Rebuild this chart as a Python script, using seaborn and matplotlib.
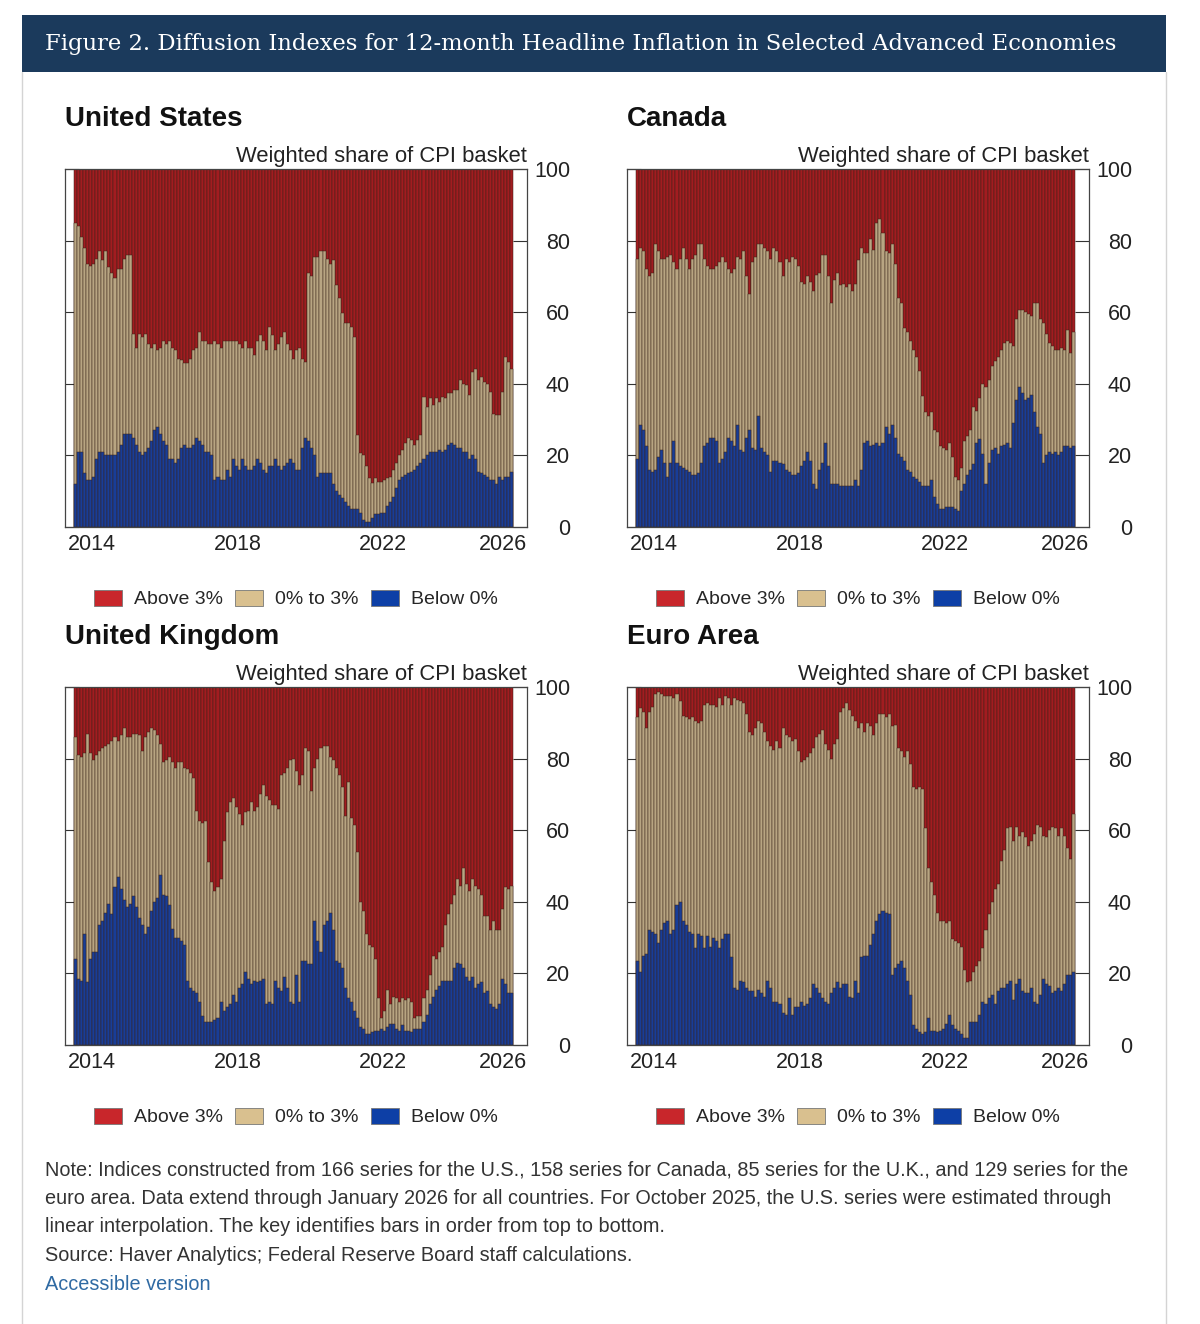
import matplotlib
matplotlib.use('Agg')
import matplotlib.pyplot as plt
from matplotlib.patches import Rectangle, Patch
from matplotlib.lines import Line2D
import seaborn as sns
import pandas as pd

# monthly, Jan 2014 - Jan 2026
months = pd.date_range('2014-01-01', '2026-01-01', freq='MS')
year_labels = ['2014', '2018', '2022', '2026']

# share of CPI basket with 12-month inflation below 0% and below 3% (cumulative)
us_below0 = [12, 21, 21, 15, 13, 13, 14, 19, 21, 21,
             20, 20, 20, 20, 21, 23, 26, 26, 26, 25,
             23, 21, 20, 21, 22, 24, 27, 28, 26, 24,
             23, 19, 19, 18, 19, 22, 23, 22, 22, 23,
             25, 24, 23, 21, 21, 20, 13, 14, 13, 13,
             16, 14, 19, 17, 16, 19, 17, 16, 16, 17,
             19, 18, 16, 15, 17, 17, 19, 17, 16, 17,
             18, 19, 18, 16, 16, 22, 25, 24, 22, 20,
             14, 15, 15, 15, 15, 12, 10, 9, 8, 7,
             6, 5, 5, 5, 4, 2, 1.5, 1.5, 2.5, 3.5,
             3.5, 4, 4, 6, 7, 8.5, 11, 13, 14, 14.5,
             15, 15.5, 16, 17, 18, 19, 20, 21, 21, 21,
             21.5, 21, 21.5, 23, 23.5, 23, 22, 22, 21, 21,
             19, 20, 19, 15.5, 15, 14.5, 14, 13, 13, 12,
             14, 13, 14, 14, 15.5]
us_below3 = [85, 84, 81, 78, 73.6, 73, 73.6, 75, 77, 74.6,
             77, 72.7, 71, 69.5, 72, 72, 75, 76, 76, 54,
             50, 54, 53, 54, 51, 50, 51, 49.5, 50, 52,
             51, 52, 50, 49.5, 47, 46.6, 45.7, 45.7, 47, 49.5,
             50, 54.5, 52, 52, 51, 51, 52, 51, 50, 52,
             52, 52, 52, 52, 51, 50, 52, 50, 50, 48,
             52, 53.6, 52, 49.5, 56, 53.6, 49.5, 51, 53, 54.5,
             51, 49.5, 47, 49.5, 50, 47, 46, 71, 70, 75.5,
             75.5, 77, 77, 75, 73.6, 74.6, 67.6, 64, 59.7, 57,
             57, 56, 53, 25.7, 20.6, 20, 17, 13.6, 12.2, 13.6,
             12.7, 12.7, 13, 13.6, 14, 16, 18, 20, 21.5, 23.4,
             24.8, 24.3, 23, 24.3, 25.7, 36.4, 33.6, 36, 34, 36,
             35, 36.4, 36, 37.3, 37.3, 38.3, 38.3, 41, 40, 39.7,
             37, 43.4, 44, 41, 42, 40.6, 40, 37.8, 31.7, 31.3,
             31.3, 37.8, 47.6, 46, 44]

ca_below0 = [19, 28.5, 27, 22.5, 16, 15.5, 16, 19.5, 21.5, 18,
             14, 18, 24, 18, 17, 16.5, 16, 15.5, 14.5, 14.5,
             15, 18, 22.5, 23.5, 25, 25, 24, 18, 19, 21,
             25, 24, 22.5, 28.5, 21.5, 21, 25, 27, 22, 21.5,
             31, 22, 21, 20, 15.5, 18.5, 18.5, 18, 17.5, 16,
             15.5, 14.5, 14.5, 15, 17, 18.5, 21, 18.5, 12, 10.5,
             16, 18, 23.5, 17, 12, 12, 12, 11.5, 11.5, 11.5,
             11.5, 11.5, 13, 11.5, 16, 23.5, 24, 22.5, 23, 23.5,
             22.5, 23.5, 28, 26, 28.5, 25, 20.5, 19.5, 18.5, 16,
             15.5, 14, 13.5, 12.5, 11.5, 11.5, 11.5, 13, 8.5, 6.5,
             5, 5, 5.5, 5.5, 5.5, 5, 4.5, 10, 12, 14.5,
             16, 17.5, 23.5, 24.5, 20.5, 12, 18, 21.5, 22, 20.5,
             22.5, 23, 23.5, 22, 29, 35.5, 39, 37.5, 35.5, 36,
             37, 32, 28, 26, 18, 20, 21, 20.5, 21, 20,
             21, 22.5, 22.5, 22, 22.5]
ca_below3 = [75, 78, 77, 72, 70, 71, 79, 77, 75, 75,
             75.5, 76, 74, 72, 75, 78, 75, 72, 75, 76,
             79, 79, 75, 73, 72, 72, 73, 74, 75.5, 74,
             72, 71, 72, 75.5, 75, 77, 70, 65, 74, 75.5,
             79, 79, 78, 77, 75, 78, 77, 74, 70, 75,
             74, 75.5, 75, 73, 68.5, 68, 70, 68.5, 66, 70.5,
             71, 76, 76, 70, 62.5, 69, 71, 67.5, 68, 67,
             68, 66, 68, 74.5, 78, 76.5, 76.5, 80.5, 77.5, 85,
             86, 82, 77, 76.5, 79, 73.5, 64, 62.5, 55.5, 54.5,
             52, 49.5, 47.5, 43.5, 36.5, 32, 31, 32, 27, 26.5,
             22.5, 22, 21.5, 23.5, 19.5, 14, 13, 16.5, 24, 25.5,
             27, 33.5, 32.5, 36, 40, 39, 41, 45, 46.5, 47.5,
             49.5, 51.5, 52, 51.5, 50.5, 58, 60.5, 60.5, 60, 59.5,
             59, 62.5, 62.5, 58, 57, 54, 51.5, 50.5, 49.5, 49.5,
             50, 49.5, 55, 48.5, 54.5]

uk_below0 = [24, 18.5, 18, 31, 17.5, 24, 26, 26, 33.5, 34.5,
             37, 39.5, 36.5, 44, 47, 43.5, 40.5, 38.5, 39.5, 41.5,
             38.5, 35.5, 33.5, 31, 33, 37.5, 40, 41, 47.5, 42,
             41.5, 39, 32.5, 30, 30, 29, 28, 18, 16, 15,
             14.5, 12, 8, 6.5, 6.5, 6.5, 7, 7.5, 12, 9.5,
             10.5, 11.5, 14, 12, 16, 17, 20.5, 18.5, 17, 18,
             17.5, 18, 18.5, 11.5, 12, 11.5, 18, 16, 15, 19,
             16, 12, 11.5, 19.5, 12, 23.5, 23.5, 22.5, 22.5, 34.5,
             29, 26, 33.5, 34.5, 37, 32, 23.5, 23, 21.5, 16,
             13, 12, 9.5, 7.5, 5, 4.5, 3, 3, 3.5, 4,
             4, 4.5, 4, 5, 6, 6, 4.5, 4, 5.5, 4,
             4, 3.5, 4.5, 4.5, 4.5, 6.5, 8.5, 11.5, 13.5, 15.5,
             16.5, 18, 18, 18, 18, 21.5, 23, 22.5, 21.5, 19,
             18, 19, 16, 17, 17.5, 14.5, 15, 11.5, 10.5, 10,
             11.5, 18.5, 17, 14.5, 14.5]
uk_below3 = [86, 81, 80.5, 81.5, 87, 81.5, 79.5, 81, 82, 83,
             83.5, 84, 85, 86, 85, 86.5, 88.5, 86, 86, 87,
             87, 86.5, 82, 86, 87.5, 88.5, 88, 86.5, 84, 79,
             79.5, 80.5, 79, 77.5, 79, 79, 77.5, 77, 76, 74.5,
             65.5, 62.5, 62, 62.5, 51, 45.5, 43, 44, 46.5, 57,
             65, 68, 69, 66.5, 64.5, 61.5, 65, 65.5, 68, 65.5,
             66.5, 70, 72.5, 69.5, 68.5, 67, 67, 66, 75.5, 76,
             77.5, 79.5, 80, 76.5, 72.5, 75.5, 83, 82, 71, 77.5,
             80, 83, 83.5, 83.5, 80.5, 79.5, 77.5, 75.5, 72, 64,
             73.5, 63.5, 61.5, 54, 40, 37.5, 31, 28, 27.5, 24,
             13, 7.5, 9.5, 15.5, 11.5, 13.5, 13, 12, 13, 12.5,
             13, 12, 7.5, 8, 8, 13, 15.5, 19.5, 25, 24,
             26, 27.5, 33.5, 36.5, 39.5, 42, 46.5, 44.5, 49.5, 45,
             43, 46.5, 44.5, 43.5, 42, 36, 36, 32, 34.5, 32,
             32, 38, 44, 43.5, 44.5]

ea_below0 = [23.5, 20.5, 25, 25.5, 32, 31.5, 31, 28.5, 32, 34,
             34.5, 31, 32, 39, 40, 34.5, 33.5, 31.5, 31, 27,
             31, 30.5, 27, 30.5, 27.5, 30, 29, 27, 29.5, 31,
             31, 24.5, 16, 15.5, 18, 17.5, 16, 15, 15, 13.5,
             15.5, 14.5, 13.5, 18, 16, 12, 12, 11.5, 9, 8.5,
             13, 8.5, 10.5, 10.5, 12, 11, 11.5, 13, 17, 16,
             14.5, 13, 12, 11.5, 14.5, 16, 17.5, 16, 17, 17,
             13.5, 13, 18, 14.5, 24.5, 25, 25, 28, 31, 34.5,
             36.5, 37.5, 37, 36.5, 19.5, 21.5, 22.5, 23.5, 21.5, 18,
             14, 5.5, 4.5, 3.5, 3, 3.5, 7.5, 4, 4, 3.5,
             4, 4.5, 6, 8.5, 5.5, 4.5, 4, 3, 2, 2,
             6.5, 6.5, 6.5, 8.5, 12, 11.5, 13, 14, 11.5, 15,
             16, 16, 17, 18, 12.5, 17, 18.5, 15, 14.5, 14.5,
             16, 12, 11.5, 14, 18.5, 17, 16.5, 14.5, 15, 16,
             15, 17, 19.5, 19.5, 20.5]
ea_below3 = [91.5, 94, 93, 88.5, 93, 94.5, 98, 98.5, 98, 97.5,
             97.5, 97.5, 97, 98, 96, 92, 91.5, 91, 91.5, 90.5,
             90, 90.5, 95, 95.5, 95, 95, 94.5, 97, 95, 97.5,
             97, 95, 97, 96.5, 96, 95.5, 92.5, 87.5, 86.5, 88.5,
             90.5, 90, 87.5, 85, 83.5, 82.5, 85, 83, 88.5, 86.5,
             86, 85, 85.5, 82, 79, 79.5, 80.5, 81.5, 83, 86,
             87, 88, 84, 82.5, 80, 84, 85.5, 93, 94, 95.5,
             93.5, 92, 90.5, 88.5, 90, 87.5, 90, 89, 86.5, 90,
             92.5, 92.5, 91.5, 92.5, 89, 89.5, 83, 82, 80.5, 82,
             78.5, 72, 71.5, 72, 71.5, 60.5, 49.5, 45.5, 42, 37,
             34.5, 34.5, 34, 34.5, 29.5, 29, 28.5, 27.5, 21, 17.5,
             18, 20.5, 22, 23.5, 27, 32, 36.5, 40, 43.5, 45,
             51.5, 54.5, 60.5, 61, 57, 61, 58.5, 59.5, 58, 55.5,
             57, 59, 61.5, 61, 58.5, 58, 60, 61, 60.5, 58.5,
             60.5, 58.5, 55, 52, 64.5]

RED, TAN, BLUE = '#a21c20', '#b8a582', '#183d98'
EDGE = '#3a2418'

sns.set_theme(style='white')
plt.rcParams['font.family'] = ['Liberation Sans', 'DejaVu Sans']

W, H = 1200, 1324
fig = plt.figure(figsize=(12, 13.24), dpi=100)


def fx(px):
    return px / W


def fy(py):
    return 1 - py / H


# header band and page border
fig.add_artist(Rectangle((fx(22), fy(72)), fx(1144), 57 / H, transform=fig.transFigure,
                         facecolor='#1b3a5c', edgecolor='none'))
fig.text(fx(45), fy(44), 'Figure 2. Diffusion Indexes for 12-month Headline Inflation in Selected Advanced Economies',
         color='white', fontsize=16.3, family='DejaVu Serif', va='center', ha='left')
for bx in (22, 1166):
    fig.add_artist(Line2D([fx(bx), fx(bx)], [fy(72), 0], transform=fig.transFigure, color='#d4d4d4', lw=1))

panels = [('United States', 65, 169, us_below0, us_below3),
          ('Canada', 627, 169, ca_below0, ca_below3),
          ('United Kingdom', 65, 687, uk_below0, uk_below3),
          ('Euro Area', 627, 687, ea_below0, ea_below3)]

legend_handles = [Patch(facecolor='#c8262b', edgecolor='#777777', lw=0.6, label='Above 3%'),
                  Patch(facecolor='#d9c08f', edgecolor='#777777', lw=0.6, label='0% to 3%'),
                  Patch(facecolor='#0d3fa6', edgecolor='#777777', lw=0.6, label='Below 0%')]

for name, x0, y0, b0, b3 in panels:
    ax = fig.add_axes([fx(x0), fy(y0 + 358), 462 / W, 358 / H])
    df = pd.DataFrame({'month': range(len(months)), 'below0': b0, 'below3': b3})
    df['mid'] = df['below3'] - df['below0']
    df['above3'] = 100 - df['below3']
    df['total'] = df['below0'] + df['mid'] + df['above3']

    # stacked bars drawn front to back
    for col, c in (('total', RED), ('below3', TAN), ('below0', BLUE)):
        sns.barplot(data=df, x='month', y=col, color=c, saturation=1, width=1.0,
                    edgecolor=EDGE, linewidth=0.35, errorbar=None, ax=ax)

    ax.set_xlim(-3.5, 149)
    ax.set_ylim(0, 100)
    ax.set_xlabel('')
    ax.set_ylabel('')

    ax.set_xticks([5.5, 53.5, 101.5, 149])
    ax.set_xticklabels(year_labels)
    ax.get_xticklabels()[-1].set_ha('right')
    ax.tick_params(axis='x', length=0, pad=5, labelsize=15.5, colors='#222222')

    ax.set_yticks(range(0, 101, 20))
    ax.set_yticklabels([str(v) for v in range(0, 101, 20)], ha='right')
    ax.tick_params(axis='y', direction='in', length=10, width=0.8, left=True, right=True,
                   labelleft=False, labelright=True, labelsize=15.5, pad=31,
                   color='#333333', labelcolor='#222222')
    for s in ax.spines.values():
        s.set_color('#444444')
        s.set_linewidth(0.9)

    ax.text(1.0, 1 + 7 / 358, 'Weighted share of CPI basket', transform=ax.transAxes,
            ha='right', va='baseline', fontsize=15.8, color='#222222')
    fig.text(fx(x0), fy(y0 - 50), name, fontsize=20, fontweight='bold', va='center', color='#111111')

    ax.legend(handles=legend_handles, loc='center', bbox_to_anchor=(0.5, -72 / 358), ncol=3,
              frameon=False, fontsize=14, handlelength=1.44, handleheight=0.93,
              handletextpad=0.62, columnspacing=0.62, borderaxespad=0)

notes = ['Note: Indices constructed from 166 series for the U.S., 158 series for Canada, 85 series for the U.K., and 129 series for the',
         'euro area. Data extend through January 2026 for all countries. For October 2025, the U.S. series were estimated through',
         'linear interpolation. The key identifies bars in order from top to bottom.',
         'Source: Haver Analytics; Federal Reserve Board staff calculations.']
for k, line in enumerate(notes):
    fig.text(fx(45), fy(1170 + 28.5 * k), line, fontsize=14.3, color='#333333', va='center')
fig.text(fx(45), fy(1284), 'Accessible version', fontsize=14.3, color='#2f6aa3', va='center')

fig.savefig('out.png', dpi=100)
